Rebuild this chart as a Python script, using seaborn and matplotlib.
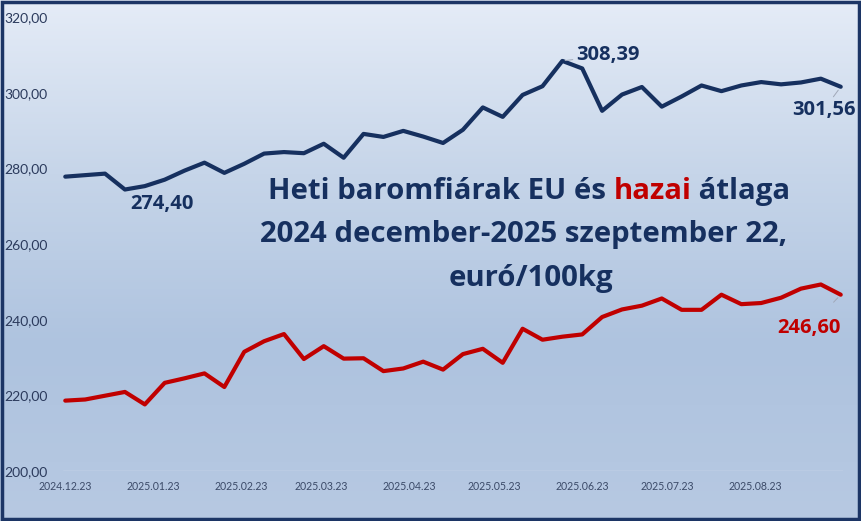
import numpy as np
import pandas as pd
import matplotlib
matplotlib.use("Agg")
import matplotlib.pyplot as plt
import matplotlib.dates as mdates
import seaborn as sns

# weekly prices, euro/100kg
weeks = pd.date_range("2024-12-23", periods=40, freq="7D")
eu_avg = [277.8, 278.2, 278.6, 274.4, 275.3, 277.0, 279.4, 281.5, 278.8, 281.2,
          283.9, 284.3, 284.0, 286.5, 282.8, 289.1, 288.3, 289.9, 288.4, 286.7,
          290.2, 296.1, 293.6, 299.4, 301.7, 308.39, 306.4, 295.2, 299.5, 301.5,
          296.3, 299.0, 301.9, 300.4, 301.9, 302.8, 302.2, 302.7, 303.7, 301.56]
hu_avg = [218.6, 218.9, 219.9, 220.9, 217.6, 223.3, 224.5, 225.8, 222.2, 231.5,
          234.3, 236.2, 229.6, 233.0, 229.7, 229.8, 226.4, 227.1, 228.9, 226.8,
          230.9, 232.3, 228.6, 237.6, 234.7, 235.5, 236.1, 240.7, 242.7, 243.7,
          245.6, 242.6, 242.6, 246.6, 244.1, 244.4, 245.8, 248.2, 249.3, 246.60]
tick_dates = pd.to_datetime(["2024-12-23", "2025-01-23", "2025-02-23", "2025-03-23",
                             "2025-04-23", "2025-05-23", "2025-06-23", "2025-07-23",
                             "2025-08-23"])

df = pd.DataFrame({"het": weeks, "EU": eu_avg, "hazai": hu_avg})

navy = "#16305f"
red = "#c00000"
day = pd.Timedelta(days=1)

sns.set_theme(style="white")
plt.rcParams["font.family"] = ["Lato", "DejaVu Sans"]

fig = plt.figure(figsize=(8.61, 5.21), dpi=100)

# gradient background
bg = fig.add_axes([0, 0, 1, 1], zorder=0)
grad = np.linspace(0, 1, 256).reshape(-1, 1)
cmap = matplotlib.colors.LinearSegmentedColormap.from_list(
    "bg", ["#e5ecf7", "#c6d5e9", "#aec3df", "#b7c9e2"])
bg.imshow(grad, aspect="auto", cmap=cmap, extent=[0, 1, 0, 1])
bg.set_axis_off()
fig.patches.append(plt.Rectangle((0.002, 0.003), 0.996, 0.994, transform=fig.transFigure,
                                 fill=False, edgecolor="#1c3565", linewidth=2.5, zorder=10))

W, H = 861, 521
ax = fig.add_axes([63 / W, 1 - 471 / H, (843 - 63) / W, (471 - 17) / H], zorder=1)
ax.patch.set_alpha(0)

sns.lineplot(data=df, x="het", y="EU", ax=ax, color=navy, linewidth=3.0)
sns.lineplot(data=df, x="het", y="hazai", ax=ax, color=red, linewidth=3.0)

ax.set_ylim(200, 320)
ax.set_yticks(np.arange(200, 321, 20))
ax.set_yticklabels([f"{v:.2f}".replace(".", ",") for v in np.arange(200, 321, 20)])
ax.set_xlim(weeks[0] - 0.8 * day, weeks[-1] + 0.8 * day)
ax.set_xticks(tick_dates)
ax.xaxis.set_major_formatter(mdates.DateFormatter("%Y.%m.%d"))
ax.set_xlabel("")
ax.set_ylabel("")
for s in ax.spines.values():
    s.set_visible(False)
ax.axhline(200, color="#d6e0ee", linewidth=1.0, zorder=0)
ax.tick_params(axis="y", labelsize=10, colors="#2b3a5c", pad=11, length=0)
ax.tick_params(axis="x", labelsize=7.6, colors="#3b4a68", pad=7, length=0)

# value labels
lab = dict(fontsize=14.5, fontweight="bold", family=["Open Sans", "DejaVu Sans"])
lead = dict(arrowstyle="-", color="#a0a8b8", linewidth=0.7)
ax.annotate("274,40", (weeks[3], eu_avg[3]), xytext=(weeks[4] + 6 * day, 270.7),
            ha="center", va="center", color=navy, **lab)
ax.annotate("308,39", (weeks[25], eu_avg[25]), xytext=(weeks[27] + 2 * day, 309.9),
            ha="center", va="center", color=navy, **lab,
            arrowprops=dict(shrinkA=23, shrinkB=2, **lead))
ax.annotate("301,56", (weeks[39], eu_avg[39]), xytext=(weeks[39] - 6 * day, 295.4),
            ha="center", va="center", color=navy, **lab,
            arrowprops=dict(shrinkA=10, shrinkB=3, **lead))
ax.annotate("246,60", (weeks[39], hu_avg[39]), xytext=(weeks[37] + 3 * day, 237.9),
            ha="center", va="center", color=red, **lab,
            arrowprops=dict(shrinkA=12, shrinkB=3, **lead))

# title, with "hazai" in red
tfont = dict(fontsize=21.2, fontweight="bold", family=["Open Sans", "DejaVu Sans"])
line1 = ["Heti baromfiárak EU és ", "hazai", " átlaga"]
t1 = fig.text(529 / W, 1 - 199 / H, "".join(line1), color=navy, alpha=0,
              ha="center", va="baseline", **tfont)
fig.canvas.draw()
r = fig.canvas.get_renderer()
x0 = t1.get_window_extent(renderer=r).x0
for part, col in zip(line1, [navy, red, navy]):
    t = fig.text(x0 / fig.bbox.width, 1 - 199 / H, part, color=col,
                 ha="left", va="baseline", **tfont)
    x0 += t.get_window_extent(renderer=r).width
fig.text(524 / W, 1 - 242 / H, "2024 december-2025 szeptember 22,", color=navy,
         ha="center", va="baseline", **tfont)
fig.text(531 / W, 1 - 286 / H, "euró/100kg", color=navy,
         ha="center", va="baseline", **tfont)

fig.savefig("out.png", dpi=100)
